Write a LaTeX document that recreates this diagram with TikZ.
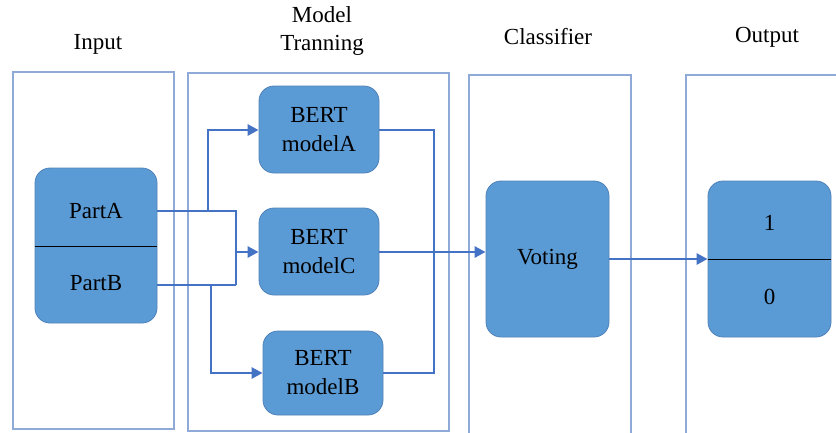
\documentclass[tikz,border=0pt]{standalone}
\usepackage{fontspec}
\setmainfont{Liberation Serif}
\usetikzlibrary{arrows.meta}
\definecolor{panelline}{RGB}{143,170,215}
\definecolor{boxfill}{RGB}{91,155,213}
\definecolor{boxline}{RGB}{80,130,185}
\definecolor{wire}{RGB}{68,114,196}
\tikzset{
  panel/.style={draw=panelline, line width=2.6pt, fill=none, inner sep=0pt},
  block/.style={draw=boxline, line width=0.8pt, fill=boxfill, rounded corners=15pt,
    inner sep=0pt, align=center, font=\fontsize{23}{29}\selectfont},
  label/.style={align=center, font=\fontsize{23}{28}\selectfont, inner sep=0pt},
  link/.style={draw=wire, line width=2.8pt, -{Triangle[length=11pt,width=11pt]}},
  plain/.style={draw=wire, line width=2.8pt},
}
\begin{document}
\begin{tikzpicture}[x=1pt,y=-1pt]
\useasboundingbox (0,0) rectangle (836,432);
% column frames
\draw[panel] (13,429) -- (13,72) -- (174,72) -- (174,429) -- cycle;
\draw[panel] (188,431) -- (188,73) -- (449,73) -- (449,431) -- cycle;
\draw[panel] (469,440) -- (469,75) -- (631,75) -- (631,440);
\draw[panel] (686,440) -- (686,75) -- (850,75);
% column headings
\node[label] (hin)  at (98,44)  {Input};
\node[label] (hmod) at (322,31) {Model\\Tranning};
\node[label] (hcls) at (548,37) {Classifier};
\node[label] (hout) at (767,37) {Output};
% input block
\node[block, minimum width=122pt, minimum height=155pt] (inp) at (96,245.5) {};
\draw[black, line width=1pt] (inp.west |- 0,246) -- (inp.east |- 0,246);
\node[label] (pa) at (96,211) {PartA};
\node[label] (pb) at (96,283) {PartB};
% models
\node[block, minimum width=120pt, minimum height=87pt] (ma) at (319,129.5) {BERT\\modelA};
\node[block, minimum width=120pt, minimum height=87pt] (mc) at (319,251.5) {BERT\\modelC};
\node[block, minimum width=120pt, minimum height=84pt] (mb) at (323,373) {BERT\\modelB};
% classifier
\node[block, minimum width=123pt, minimum height=156pt] (vote) at (547.5,259) {Voting};
% output block
\node[block, minimum width=123pt, minimum height=156pt] (outb) at (769.5,259) {};
\draw[black, line width=1pt] (outb.west |- 0,259) -- (outb.east |- 0,259);
\node[label] (one)  at (769.5,223) {1};
\node[label] (zero) at (769.5,297) {0};
% junction points
\coordinate (ja) at (157,211);
\coordinate (jb) at (157,285);
% PartA to models A and C
\draw[plain] (ja) -- (236,211) -- (236,285);
\draw[link] (208,211) |- (ma.west |- 0,130);
\draw[link] (236,252) -- (mc.west |- 0,252);
% PartB to models B and C
\draw[plain] (jb) -- (236,285);
\draw[link] (211,285) |- (mb.west |- 0,373);
% models to voting
\draw[plain] (ma.east |- 0,130) -- (434,130) -- (434,373) -- (mb.east |- 0,373);
\draw[link] (mc.east |- 0,252) -- (vote.west |- 0,252);
% voting to output
\draw[link] (vote.east |- 0,259) -- (outb.west |- 0,259);
\end{tikzpicture}
\end{document}
